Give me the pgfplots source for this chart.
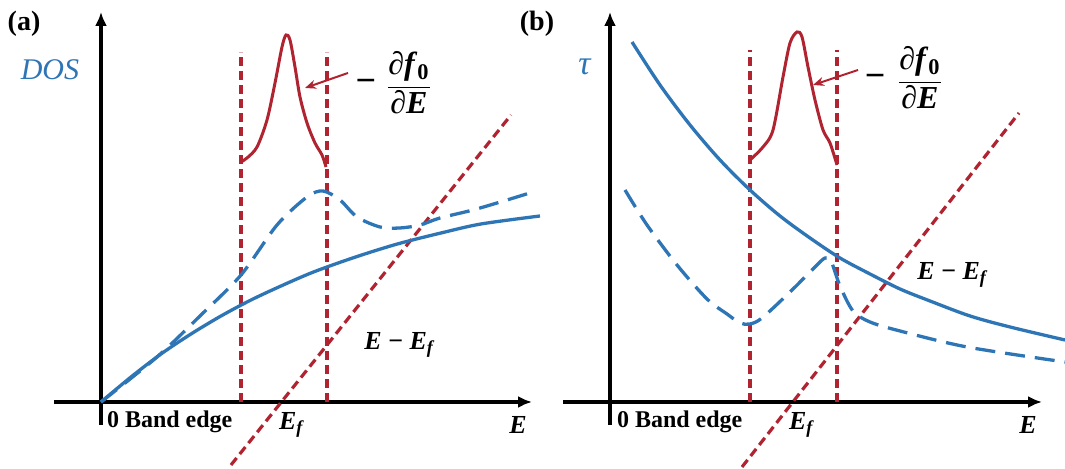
\documentclass[border=0pt]{standalone}
\usepackage{fontspec}
\setmainfont{Liberation Serif}
\usepackage{pgfplots}
\pgfplotsset{compat=1.18}
\usetikzlibrary{arrows.meta}
\definecolor{myblue}{RGB}{46,117,182}
\definecolor{myred}{RGB}{176,35,48}
\newcommand{\Ef}{\textit{E}\textsubscript{\textit{f}}}
\newcommand{\dfdE}{\begin{tabular}{@{}c@{}}∂\textit{f}\textsubscript{0}\\[1pt]\hline\rule{0pt}{13pt}∂\textit{E}\end{tabular}}
\begin{document}
\begin{tikzpicture}
\useasboundingbox (0,0) rectangle (532.5pt,234.5pt);
\begin{axis}[width=532.5pt, height=234.5pt, scale only axis,
  at={(0,0)}, anchor=south west,
  xmin=0, xmax=1065, ymin=0, ymax=469, enlargelimits=false,
  hide axis, clip=false]
% panel (a)
\addplot[black, line width=1.6pt, -{Latex[length=7pt,width=6pt]}] coordinates {(54,67) (532,67)};
\addplot[black, line width=1.6pt, -{Latex[length=7pt,width=6pt]}] coordinates {(101,44) (101,457)};
\addplot[myred, line width=1.6pt, dash pattern=on 4.5pt off 2.5pt] coordinates {(241,67) (241,417)};
\addplot[myred, line width=1.6pt, dash pattern=on 4.5pt off 2.5pt] coordinates {(327,67) (327,417)};
\addplot[myred, line width=1.6pt, dash pattern=on 4.5pt off 2.5pt] coordinates {(231,4) (511,354)};
\addplot[myblue, line width=1.65pt, dash pattern=on 10pt off 5pt, smooth] coordinates {(101,67) (157,112) (201,154) (241,194) (277,244) (307,272) (323,278) (340,269) (357,252) (380,242) (400,241) (420,244) (440,251) (473,259) (507,269) (533,277)};
\addplot[myblue, line width=1.65pt, smooth] coordinates {(101,67) (131,92) (161,115) (191,135) (221,153) (251,169) (281,183) (311,196) (341,207) (371,217) (401,226) (441,236) (481,245) (540,253)};
\addplot[myred, line width=1.5pt, smooth] coordinates {(241,307) (247,311) (257,322) (267,349) (275,386) (282,422) (286,434) (290,429) (295,402) (300,372) (307,346) (315,326) (322,314) (326,302)};
\addplot[myred, line width=1pt, -{Stealth[length=5.5pt,width=4.5pt]}] coordinates {(348,396) (305,381)};
% panel (b)
\addplot[black, line width=1.6pt, -{Latex[length=7pt,width=6pt]}] coordinates {(563,67) (1042,67)};
\addplot[black, line width=1.6pt, -{Latex[length=7pt,width=6pt]}] coordinates {(610,44) (610,457)};
\addplot[myred, line width=1.6pt, dash pattern=on 4.5pt off 2.5pt] coordinates {(750,67) (750,419)};
\addplot[myred, line width=1.6pt, dash pattern=on 4.5pt off 2.5pt] coordinates {(837,67) (837,419)};
\addplot[myred, line width=1.6pt, dash pattern=on 4.5pt off 2.5pt] coordinates {(742,2) (1019,356)};
\addplot[myblue, line width=1.65pt, dash pattern=on 10pt off 5pt, smooth] coordinates {(625,279) (647,244) (677,204) (707,170) (727,155) (740,146) (750,145) (762,151) (790,177) (815,202) (825,211) (831,208) (840,183) (853,158) (870,147) (900,138) (967,122) (1065,107)};
\addplot[myblue, line width=1.65pt, smooth] coordinates {(632,427) (660,384) (690,344) (720,309) (750,279) (780,253) (810,231) (840,211) (870,195) (900,180) (930,168) (970,153) (1010,142) (1065,129)};
\addplot[myred, line width=1.5pt, smooth] coordinates {(750,309) (763,322) (773,339) (783,392) (790,426) (797,437) (802,432) (808,402) (815,369) (823,339) (830,326) (837,304)};
\addplot[myred, line width=1pt, -{Stealth[length=5.5pt,width=4.5pt]}] coordinates {(858,399) (813,384)};
\end{axis}
\begin{scope}[x=0.5pt, y=0.5pt, every node/.style={inner sep=0pt, outer sep=0pt}]
% panel (a) labels
\node at (24,445) {\fontsize{14}{16}\selectfont\textbf{(a)}};
\node[text=myblue] at (50,399) {\fontsize{15}{17}\selectfont\textit{DOS}};
\node[anchor=west] at (107,47) {\fontsize{12}{14}\selectfont\textbf{0 Band edge}};
\node at (292,44) {\fontsize{13}{15}\selectfont\bfseries\Ef};
\node at (518,44) {\fontsize{13}{15}\selectfont\bfseries\textit{E}};
\node at (400,124) {\fontsize{13}{15}\selectfont\bfseries\textit{E} − \Ef};
\node at (366,383) {\fontsize{18}{20}\selectfont\bfseries −};
\node at (409,382) {\fontsize{16}{18}\selectfont\bfseries\dfdE};
% panel (b) labels
\node at (537,445) {\fontsize{14}{16}\selectfont\textbf{(b)}};
\node[text=myblue] at (585,402) {\fontsize{17}{19}\selectfont\textit{τ}};
\node[anchor=west] at (617,47) {\fontsize{12}{14}\selectfont\textbf{0 Band edge}};
\node at (802,44) {\fontsize{13}{15}\selectfont\bfseries\Ef};
\node at (1028,44) {\fontsize{13}{15}\selectfont\bfseries\textit{E}};
\node at (953,194) {\fontsize{13}{15}\selectfont\bfseries\textit{E} − \Ef};
\node at (875,388) {\fontsize{18}{20}\selectfont\bfseries −};
\node at (920,387) {\fontsize{16}{18}\selectfont\bfseries\dfdE};
\end{scope}
\end{tikzpicture}
\end{document}
